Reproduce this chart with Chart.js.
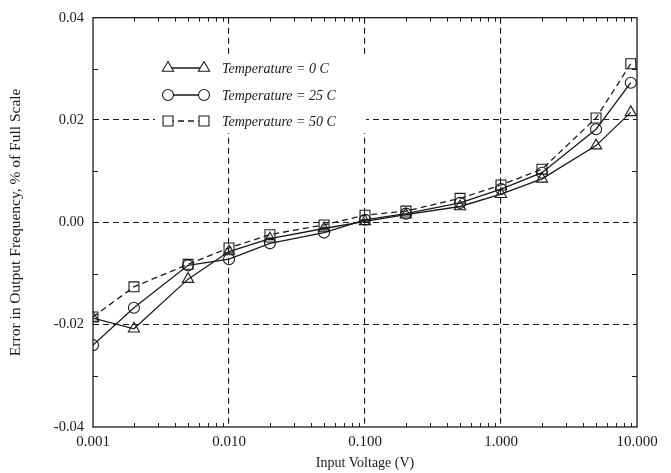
<!DOCTYPE html>
<html>
<head>
<meta charset="utf-8">
<script src="https://cdn.jsdelivr.net/npm/chart.js@4.4.1/dist/chart.umd.min.js"></script>
<style>
  html, body { margin: 0; padding: 0; background: #fff; }
  #wrap { width: 671px; height: 473px; }
</style>
</head>
<body>
<div id="wrap"><canvas id="c" width="671" height="473"></canvas></div>
<script>
const inputVoltage = [0.001, 0.002, 0.005, 0.01, 0.02, 0.05, 0.1, 0.2, 0.5, 1, 2, 5, 9];
const temp0C  = [-0.0187, -0.0208, -0.0111, -0.0057, -0.0032, -0.0012, 0.0002, 0.0015, 0.0031, 0.0055, 0.0085, 0.0150, 0.0215];
const temp25C = [-0.0240, -0.0167, -0.0084, -0.0072, -0.0041, -0.0020, 0.0005, 0.0017, 0.0038, 0.0065, 0.0097, 0.0182, 0.0273];
const temp50C = [-0.0185, -0.0126, -0.0082, -0.0050, -0.0024, -0.0005, 0.0014, 0.0022, 0.0047, 0.0073, 0.0104, 0.0204, 0.0310];
const seriesLabels = ['Temperature = 0 C', 'Temperature = 25 C', 'Temperature = 50 C'];
const xTickValues = [0.001, 0.01, 0.1, 1, 10];
const yTickValues = [-0.04, -0.02, 0.00, 0.02, 0.04];
const xAxisTitle = 'Input Voltage (V)';
const yAxisTitle = 'Error in Output Frequency, % of Full Scale';

const INK = '#1a1a1a';
const SERIF = '"Liberation Serif", "DejaVu Serif", serif';

function toPts(vals) { return inputVoltage.map((x, i) => ({ x: x, y: vals[i] })); }

const styles = [
  { pointStyle: 'triangle', radius: 6.5, dash: [] },
  { pointStyle: 'circle', radius: 5.5, dash: [] },
  { pointStyle: 'rect', radius: 7, dash: [6, 4] }
];
const seriesData = [temp0C, temp25C, temp50C];

const datasets = seriesData.map((vals, i) => ({
  label: seriesLabels[i],
  data: toPts(vals),
  borderColor: INK,
  backgroundColor: '#fff',
  borderWidth: 1.3,
  borderDash: styles[i].dash,
  pointStyle: styles[i].pointStyle,
  pointRadius: styles[i].radius,
  pointBorderWidth: 1.1,
  pointBorderColor: INK,
  pointBackgroundColor: 'rgba(255,255,255,0)',
  tension: 0
}));

const framePlugin = {
  id: 'frame',
  afterDraw(chart) {
    const { ctx, chartArea: a, scales } = chart;
    const xs = scales.x, ys = scales.y;
    ctx.save();
    ctx.strokeStyle = INK;
    ctx.lineWidth = 1.3;
    ctx.setLineDash([]);
    ctx.strokeRect(a.left, a.top, a.right - a.left, a.bottom - a.top);
    ctx.lineWidth = 1;
    for (let d = 0; d < xTickValues.length - 1; d++) {
      const base = xTickValues[d];
      for (let m = 2; m <= 9; m++) {
        const px = Math.round(xs.getPixelForValue(base * m)) + 0.5;
        ctx.beginPath();
        ctx.moveTo(px, a.bottom); ctx.lineTo(px, a.bottom - 4);
        ctx.moveTo(px, a.top); ctx.lineTo(px, a.top + 4);
        ctx.stroke();
      }
    }
    for (let k = 0; k < yTickValues.length - 1; k++) {
      const v = (yTickValues[k] + yTickValues[k + 1]) / 2;
      const py = Math.round(ys.getPixelForValue(v)) + 0.5;
      ctx.beginPath();
      ctx.moveTo(a.left, py); ctx.lineTo(a.left + 5, py);
      ctx.moveTo(a.right, py); ctx.lineTo(a.right - 5, py);
      ctx.stroke();
    }
    ctx.restore();
  }
};

const legendPlugin = {
  id: 'customLegend',
  beforeDatasetsDraw(chart) {
    const ctx = chart.ctx;
    ctx.save();
    ctx.fillStyle = '#fff';
    ctx.fillRect(155, 54, 211, 79);
    ctx.restore();
  },
  afterDatasetsDraw(chart) {
    const ctx = chart.ctx;
    const x0 = 168, x1 = 204, tx = 222;
    const rows = [68, 95, 121];
    ctx.save();
    chart.data.datasets.forEach((ds, i) => {
      const y = rows[i];
      ctx.strokeStyle = INK;
      ctx.lineWidth = 1.3;
      ctx.setLineDash(ds.borderDash || []);
      ctx.beginPath();
      ctx.moveTo(x0, y); ctx.lineTo(x1, y);
      ctx.stroke();
      ctx.setLineDash([]);
      ctx.lineWidth = 1.1;
      ctx.fillStyle = '#fff';
      const opts = { pointStyle: ds.pointStyle, radius: ds.pointRadius, rotation: 0, borderWidth: 1.1 };
      Chart.helpers.drawPoint(ctx, opts, x0, y);
      Chart.helpers.drawPoint(ctx, opts, x1, y);
      ctx.fillStyle = INK;
      ctx.font = 'italic 14px ' + SERIF;
      ctx.textBaseline = 'middle';
      ctx.textAlign = 'left';
      ctx.fillText(ds.label, tx, y + 1);
    });
    ctx.restore();
  }
};

const gridColor = (c) => {
  const first = 0, last = c.scale.ticks.length - 1;
  return (c.index === first || c.index === last) ? 'rgba(0,0,0,0)' : INK;
};

new Chart(document.getElementById('c'), {
  type: 'line',
  data: { datasets },
  options: {
    responsive: false,
    animation: false,
    devicePixelRatio: 1,
    layout: { padding: { left: 0, right: 34, top: 12, bottom: 0 } },
    plugins: { legend: { display: false }, tooltip: { enabled: false } },
    scales: {
      x: {
        type: 'logarithmic',
        min: 0.001, max: 10,
        afterBuildTicks(scale) { scale.ticks = xTickValues.map(v => ({ value: v })); },
        afterFit(scale) { scale.height = 46; },
        ticks: {
          color: INK,
          font: { family: SERIF, size: 15 },
          padding: 6,
          maxRotation: 0,
          autoSkip: false,
          callback: (v) => Number(v).toFixed(3)
        },
        grid: { color: gridColor, lineWidth: 1.1, drawTicks: false },
        border: { display: false, dash: [6, 4] },
        title: {
          display: true, text: xAxisTitle, color: INK,
          font: { family: SERIF, size: 14 }, padding: { top: 0, bottom: 1 }
        }
      },
      y: {
        min: -0.04, max: 0.04,
        afterBuildTicks(scale) { scale.ticks = yTickValues.map(v => ({ value: v })); },
        afterFit(scale) { scale.width = 93; },
        ticks: {
          color: INK,
          font: { family: SERIF, size: 14.5 },
          padding: 9,
          callback: (v) => Number(v).toFixed(2)
        },
        grid: { color: gridColor, lineWidth: 1.1, drawTicks: false },
        border: { display: false, dash: [6, 4] },
        title: {
          display: true, text: yAxisTitle, color: INK,
          font: { family: SERIF, size: 15.5 }, padding: { top: 7, bottom: 0 }
        }
      }
    }
  },
  plugins: [framePlugin, legendPlugin]
});
</script>
</body>
</html>
